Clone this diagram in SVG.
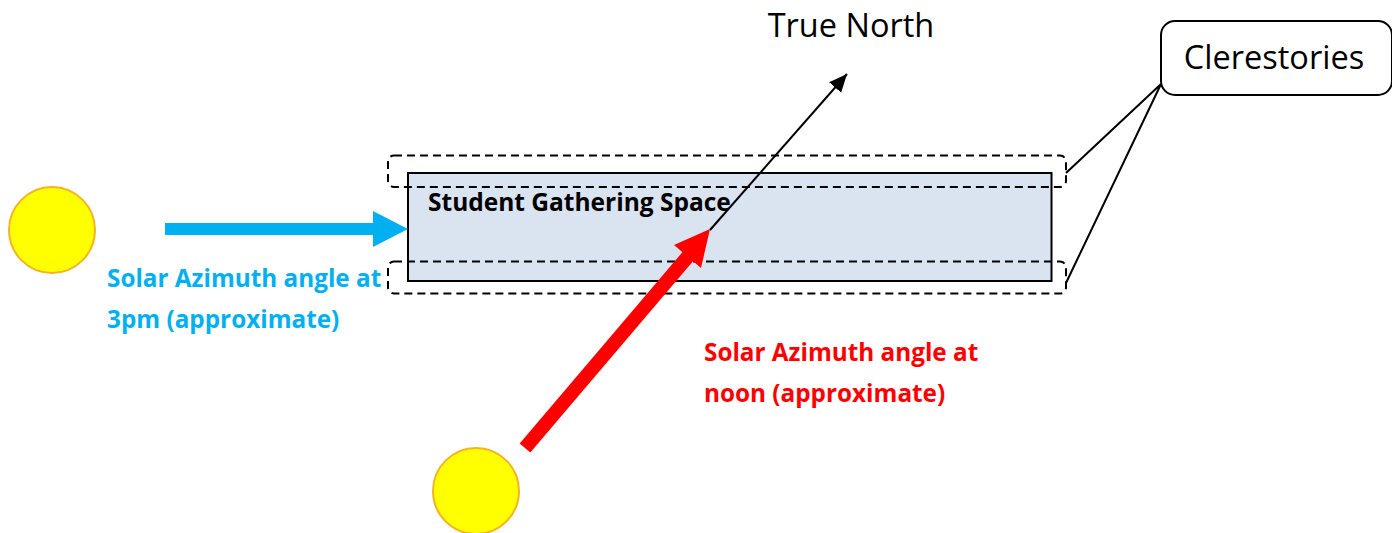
<svg xmlns="http://www.w3.org/2000/svg" width="1392" height="533" viewBox="0 0 1392 533">
<style>
.sun{fill:#ffff00;stroke:#f5b324;stroke-width:2}
.dash{fill:none;stroke:#000;stroke-width:2;stroke-dasharray:8 5}
.l{stroke:#000;stroke-width:2;fill:none}
.b{font-family:"Open Sans","Liberation Sans",sans-serif;font-weight:700;font-size:24.3px}
.r{font-family:"Open Sans","Liberation Sans",sans-serif;font-size:32.5px;fill:#000}
</style>
<defs>
<marker id="k" markerUnits="userSpaceOnUse" markerWidth="20" markerHeight="20" refX="18" refY="8" orient="auto"><path d="M0 0L18 8L0 16Z" fill="#000"/></marker>
</defs>
<g id="space"><rect x="408" y="173" width="643.500" height="108" fill="#dae3f0" stroke="#000" stroke-width="2"/><text x="428" y="211" class="b" fill="#000" style="font-size:24.5px">Student Gathering Space</text></g>
<g id="clerestory-top"><rect x="388" y="155.500" width="678" height="31.500" rx="6" class="dash"/></g>
<g id="clerestory-bottom"><rect x="388" y="261.500" width="678" height="32" rx="6" class="dash"/></g>
<g id="sun-3pm"><circle cx="52" cy="230" r="43" class="sun"/></g>
<g id="sun-noon"><circle cx="476" cy="491" r="43" class="sun"/></g>
<g id="connectors">
<path d="M710 230L847 74" class="l" marker-end="url(#k)"/>
<path d="M1066 173L1161 84M1066 283L1161 84" class="l"/>
<path d="M165 229H373" stroke="#00b0f0" stroke-width="12" fill="none"/><path d="M373 211L408 229L373 247Z" fill="#00b0f0"/>
<path d="M525 448L690 254" stroke="#ff0000" stroke-width="14" fill="none"/><path d="M674 245L710 229L701 268Z" fill="#ff0000"/>
</g>
<g id="clerestories"><rect x="1161" y="21" width="231" height="74" rx="14" fill="#fff" stroke="#000" stroke-width="2"/><text x="1274" y="69" text-anchor="middle" class="r">Clerestories</text></g>
<g id="labels">
<text x="851" y="37" text-anchor="middle" class="r">True North</text>
<text class="b" fill="#00b0f0"><tspan x="107" y="287">Solar Azimuth angle at</tspan><tspan x="107" y="328">3pm (approximate)</tspan></text>
<text class="b" fill="#ff0000"><tspan x="704" y="361">Solar Azimuth angle at</tspan><tspan x="704" y="402">noon (approximate)</tspan></text>
</g>
</svg>
